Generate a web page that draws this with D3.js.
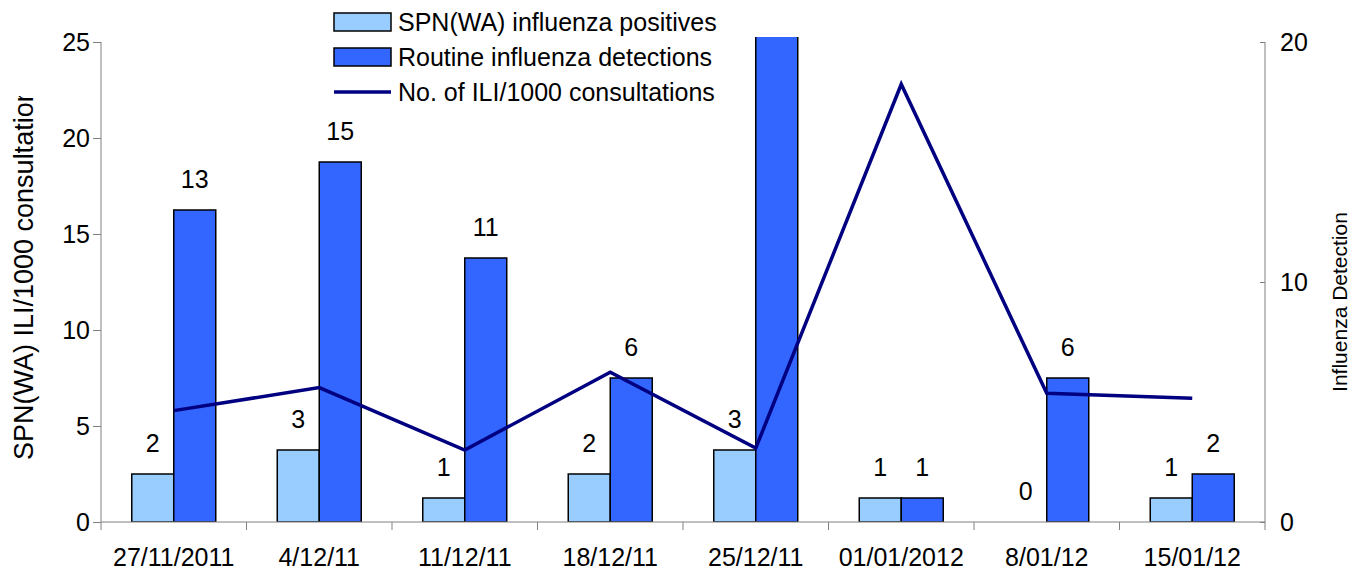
<!DOCTYPE html>
<html>
<head>
<meta charset="utf-8">
<script src="https://d3js.org/d3.v7.min.js"></script>
<style>
  body { margin: 0; background: #fff; }
  svg { font-family: "Liberation Sans", Arial, sans-serif; }
</style>
</head>
<body>
<svg id="chart" width="1353" height="570"></svg>
<script>
// data
var weeks = ["27/11/2011", "4/12/11", "11/12/11", "18/12/11", "25/12/11", "01/01/2012", "8/01/12", "15/01/12"];
var spnPositives = [2, 3, 1, 2, 3, 1, 0, 1];
var routineDetections = [13, 15, 11, 6, 25, 1, 6, 2];   // 25/12 bar runs off the top, value not shown
var iliRate = [5.8, 7.0, 3.75, 7.8, 3.85, 22.8, 6.7, 6.45];
var leftTicks = [0, 5, 10, 15, 20, 25];
var rightTicks = [0, 10, 20];

var svg = d3.select("#chart");
var x0 = 101, x1 = 1265, yTop = 42, yBot = 522;

var x = d3.scaleBand().domain(weeks).range([x0, x1]);
var yLeft = d3.scaleLinear().domain([0, 25]).range([yBot, yTop]);
var yRight = d3.scaleLinear().domain([0, 20]).range([yBot, yTop]);
var barW = 42;
var fontSize = "25px";

// clip for bars (plot area) and the cut-off left title
var defs = svg.append("defs");
defs.append("clipPath").attr("id", "plotclip")
    .append("rect").attr("x", x0).attr("y", yTop - 5).attr("width", x1 - x0).attr("height", yBot - yTop + 5);
defs.append("clipPath").attr("id", "titleclip")
    .append("rect").attr("x", 0).attr("y", 96).attr("width", 60).attr("height", 465);

var bars = svg.append("g").attr("clip-path", "url(#plotclip)");

bars.selectAll("rect.spn")
    .data(spnPositives)
    .enter().append("rect")
    .attr("class", "spn")
    .attr("x", function (d, i) { return x(weeks[i]) + x.bandwidth() / 2 - barW; })
    .attr("y", function (d) { return yRight(d); })
    .attr("width", barW)
    .attr("height", function (d) { return yBot - yRight(d); })
    .style("fill", "#99CCFF")
    .style("stroke", d => d > 0 ? "#000" : "none")
    .style("stroke-width", 1.5);

bars.selectAll("rect.routine")
    .data(routineDetections)
    .enter().append("rect")
    .attr("class", "routine")
    .attr("x", function (d, i) { return x(weeks[i]) + x.bandwidth() / 2; })
    .attr("y", function (d) { return yRight(d); })
    .attr("width", barW)
    .attr("height", function (d) { return yBot - yRight(d); })
    .style("fill", "#3366FF")
    .style("stroke", "#000")
    .style("stroke-width", 1.5);

// axes
var axisColor = "#808080";
var xAxis = svg.append("g").attr("transform", "translate(0," + yBot + ")");
xAxis.append("line").attr("x1", x0).attr("x2", x1).attr("y1", 0).attr("y2", 0)
    .style("stroke", axisColor).style("stroke-width", 1);
// ticks sit on the category boundaries
xAxis.selectAll("line.bt")
    .data(weeks.slice(1))
    .enter().append("line")
    .attr("class", "bt")
    .attr("x1", d => x(d)).attr("x2", d => x(d))
    .attr("y1", 0).attr("y2", 8)
    .style("stroke", axisColor);
svg.append("g").selectAll("text")
    .data(weeks)
    .enter().append("text")
    .attr("x", d => x(d) + x.bandwidth() / 2)
    .attr("y", 566)
    .attr("text-anchor", "middle")
    .style("font-size", fontSize)
    .text(d => d);

var leftAxis = svg.append("g")
    .attr("transform", "translate(" + x0 + ",0)")
    .call(d3.axisLeft(yLeft).tickValues(leftTicks).tickSize(8).tickPadding(3).tickSizeOuter(0));
leftAxis.select(".domain").attr("d", "M0," + yTop + "V" + (yBot + 8));
leftAxis.selectAll("path, line").style("stroke", axisColor);
leftAxis.selectAll("text").style("font-size", fontSize).style("font-family", "Liberation Sans, Arial, sans-serif").attr("fill", "#000");

var rightAxis = svg.append("g")
    .attr("transform", "translate(" + x1 + ",0)")
    .call(d3.axisRight(yRight).tickValues(rightTicks).tickSize(5).tickPadding(10).tickSizeOuter(0));
rightAxis.select(".domain").attr("d", "M0," + yTop + "V" + (yBot + 8));
rightAxis.selectAll("line").attr("x1", -5).attr("x2", 0);
rightAxis.selectAll("path, line").style("stroke", axisColor);
rightAxis.selectAll("text").attr("x", 15).style("font-size", fontSize).style("font-family", "Liberation Sans, Arial, sans-serif").attr("fill", "#000");

// axis titles
svg.append("g").attr("clip-path", "url(#titleclip)")
    .append("text")
    .attr("transform", "translate(33,460) rotate(-90)")
    .attr("text-anchor", "start")
    .style("font-size", "27px")
    .text("SPN(WA) ILI/1000 consultations");
svg.append("text")
    .attr("transform", "translate(1347,302) rotate(-90)")
    .attr("text-anchor", "middle")
    .style("font-size", "21px")
    .text("Influenza Detection");

// ILI line
var line = d3.line()
    .x(function (d, i) { return x(weeks[i]) + x.bandwidth() / 2; })
    .y(function (d) { return yLeft(d); });
svg.append("path")
    .datum(iliRate)
    .attr("d", line)
    .style("fill", "none")
    .style("stroke", "#000080")
    .style("stroke-width", 3.5)
    .style("stroke-linejoin", "miter");

// data labels (a bar that runs past the axis gets none)
svg.append("g").selectAll("text")
    .data(spnPositives.map((v, i) => ({ v: v, i: i })))
    .enter().append("text")
    .attr("x", d => x(weeks[d.i]) + x.bandwidth() / 2 - barW / 2)
    .attr("y", d => yRight(d.v) - 22)
    .attr("text-anchor", "middle")
    .style("font-size", fontSize)
    .text(d => d.v);
svg.append("g").selectAll("text")
    .data(routineDetections.map((v, i) => ({ v: v, i: i })).filter(d => d.v <= 20))
    .enter().append("text")
    .attr("x", d => x(weeks[d.i]) + x.bandwidth() / 2 + barW / 2)
    .attr("y", d => yRight(d.v) - 22)
    .attr("text-anchor", "middle")
    .style("font-size", fontSize)
    .text(d => d.v);

// legend
var legendItems = ["SPN(WA) influenza positives", "Routine influenza detections", "No. of ILI/1000 consultations"];
var legend = svg.append("g").attr("transform", "translate(334,0)");
var rows = legend.selectAll("g").data(legendItems).enter().append("g")
    .attr("transform", (d, i) => "translate(0," + (22 + i * 35) + ")");
rows.filter((d, i) => i < 2).append("rect")
    .attr("x", 0).attr("y", -9).attr("width", 57).attr("height", 18)
    .style("fill", (d, i) => i === 0 ? "#99CCFF" : "#3366FF")
    .style("stroke", "#000").style("stroke-width", 1.5);
rows.filter((d, i) => i === 2).append("line")
    .attr("x1", 0).attr("x2", 57).attr("y1", 0).attr("y2", 0)
    .style("stroke", "#000080").style("stroke-width", 3.5);
rows.append("text")
    .attr("x", 64).attr("y", 9)
    .style("font-size", fontSize)
    .text(d => d);
</script>
</body>
</html>
